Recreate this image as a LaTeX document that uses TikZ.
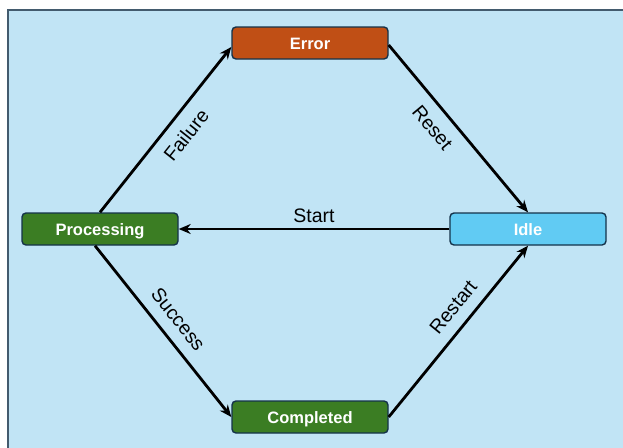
\documentclass[tikz,border=0pt]{standalone}
\usepackage{fontspec}
\setmainfont{Liberation Sans}
\usetikzlibrary{arrows.meta}

\definecolor{panelblue}{HTML}{C1E4F5}
\definecolor{edgedark}{HTML}{14324A}
\definecolor{errorred}{HTML}{C04F15}
\definecolor{stategreen}{HTML}{3B7D23}
\definecolor{idleblue}{HTML}{61CBF3}

\begin{document}
\begin{tikzpicture}[x=1pt,y=-1pt,
   state/.style={draw=edgedark,line width=1.4pt,rounded corners=4pt,
      minimum width=156pt,minimum height=32pt,inner sep=0pt,
      text height=12pt,text depth=0pt,
      text=white,font=\fontsize{16.5}{16.5}\selectfont\bfseries},
   trans/.style={line width=2.8pt,-{Stealth[length=12pt,width=10pt]}},
   lbl/.style={font=\fontsize{19.5}{19.5}\selectfont,inner sep=11pt}]
   \useasboundingbox (0,0) rectangle (623,447);
   % light blue panel, running off the right and bottom edges
   \draw [fill=panelblue,draw=edgedark!80,line width=1.2pt] (8,10) rectangle (640,470);
   % the four states
   \node [state,fill=errorred]   (error)      at (310,43)  {Error};
   \node [state,fill=stategreen] (processing) at (100,229) {Processing};
   \node [state,fill=idleblue]   (idle)       at (528,229) {Idle};
   \node [state,fill=stategreen] (completed)  at (310,417) {Completed};
   % transitions
   \draw [trans] (processing.north) -- ([yshift=-4pt]error.west)
      node [lbl,pos=0.54,sloped,below] {Failure};
   \draw [trans] ([yshift=-2pt]error.east) -- (idle.north)
      node [lbl,pos=0.42,sloped,below] {Reset};
   \draw [trans] (idle.west) -- (processing.east)
      node [lbl,midway,above,inner sep=5pt] {Start};
   \draw [trans] ([xshift=-5pt]processing.south) -- (completed.west)
      node [lbl,pos=0.5,sloped,above] {Success};
   \draw [trans] (completed.east) -- (idle.south)
      node [lbl,pos=0.57,sloped,above] {Restart};
\end{tikzpicture}
\end{document}
